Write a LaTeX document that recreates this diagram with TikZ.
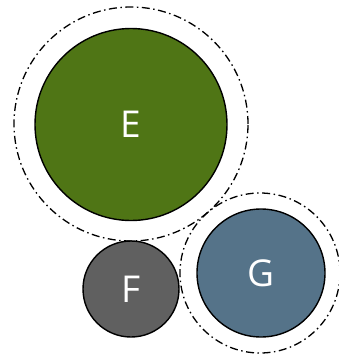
\documentclass[tikz,border=0pt]{standalone}
\usepackage{fontspec}
\setmainfont{Open Sans}
\definecolor{egreen}{HTML}{4F7515}
\definecolor{fgray}{HTML}{606060}
\definecolor{gblue}{HTML}{557389}
\begin{document}
\begin{tikzpicture}[x=1pt,y=-1pt,
  ball/.style={circle,draw=black,line width=1.4pt,text=white,font=\fontsize{37}{40}\selectfont,inner sep=0pt},
  halo/.style={circle,draw=black,line width=1.3pt,dash pattern=on 8pt off 3.5pt on 1.5pt off 3.5pt,inner sep=0pt}]
\useasboundingbox (0,0) rectangle (339,357);
\node[halo,minimum size=234pt] (Eh) at (131,124) {};
\node[halo,minimum size=160pt] (Gh) at (260,273) {};
\node[ball,fill=egreen,minimum size=192pt] (E) at (131,124.5) {E};
\node[ball,fill=fgray,minimum size=96pt] (F) at (131,289) {F};
\node[ball,fill=gblue,minimum size=128pt] (G) at (261,273) {G};
\end{tikzpicture}
\end{document}
